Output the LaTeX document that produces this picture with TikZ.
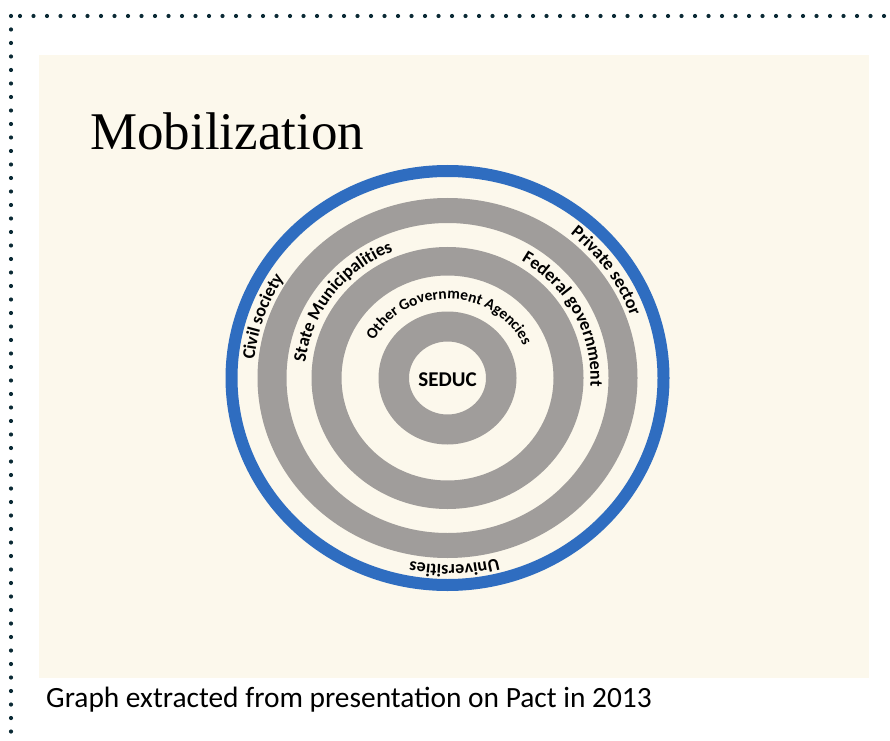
\documentclass[tikz,border=0pt]{standalone}
\usepackage{fontspec}
\setmainfont{Liberation Serif}
\newfontfamily\carlito{Carlito}
\usetikzlibrary{decorations.text}
\definecolor{panel}{HTML}{FCF8EC}
\definecolor{ringgray}{HTML}{A09D9B}
\definecolor{ringblue}{HTML}{2F6DC0}
\definecolor{dotink}{HTML}{0B2A35}
\newcommand\ringfont{\carlito\bfseries\fontsize{18}{20}\selectfont}
\newcommand\innerfont{\carlito\bfseries\fontsize{15.5}{17}\selectfont}

\begin{document}
\begin{tikzpicture}[x=1pt,y=1pt,
  dots/.style={dotink, line width=4.2pt, line cap=round, dash pattern=on 0pt off 13.5pt},
  band/.style={fill=ringgray, even odd rule},
  arclabel/.style={decorate, decoration={text along path, text align=center, text={#1}}},
]
\useasboundingbox (0,0) rectangle (890,740);

% dotted frame along the top and left edges
\coordinate (corner) at (11,724);
\coordinate (topend) at (890,724);
\coordinate (leftend) at (11,0);
\draw[dots] (corner) -- (leftend);
\draw[dots] ([xshift=9pt]corner) -- (topend);

% slide panel
\fill[panel] (39,62) rectangle (869,685);

\node[anchor=base west, font=\fontsize{53}{60}\selectfont, inner sep=0] (title) at (90,590) {Mobilization};

% concentric rings
\begin{scope}[shift={(447.5,362)}]
  \fill[band] (0,0) ellipse [x radius=190, y radius=180] (0,0) ellipse [x radius=161, y radius=155];
  \fill[band] (0,0) ellipse [x radius=136, y radius=131] (0,0) ellipse [x radius=106, y radius=102.5];
  \fill[band] (0,0) ellipse [x radius=69, y radius=66.5] (0,0) ellipse [x radius=38.5, y radius=36.5];
  \draw[ringblue, line width=12pt] (0,0) ellipse [x radius=216, y radius=207];

  \node[font=\carlito\bfseries\fontsize{21}{24}\selectfont] (seduc) at (0,-2) {SEDUC};

  % outer band labels
  \path[arclabel={|\ringfont|Civil society}] (181:194 and 186) arc[start angle=181, end angle=141, x radius=194, y radius=186];
  \path[arclabel={|\ringfont|Private sector}] (55:194 and 186) arc[start angle=55, end angle=15, x radius=194, y radius=186];
  \path[arclabel={|\ringfont|Universities}] (-68:194 and 187) arc[start angle=-68, end angle=-108, x radius=194, y radius=187];

  % middle band labels
  \path[arclabel={|\ringfont|State Municipalities}] (178:143 and 137) arc[start angle=178, end angle=108, x radius=143, y radius=137];
  \path[arclabel={|\ringfont|Federal government}] (65:143 and 137) arc[start angle=65, end angle=-10, x radius=143, y radius=137];

  % inner band label
  \path[arclabel={|\innerfont|Other Government Agencies}] (155:83 and 79) arc[start angle=155, end angle=21, x radius=83, y radius=79];
\end{scope}

\node[anchor=base west, font=\carlito\fontsize{29.4}{33}\selectfont, inner sep=0] (caption) at (46,33) {Graph extracted from presentation on Pact in 2013};
\end{tikzpicture}
\end{document}
